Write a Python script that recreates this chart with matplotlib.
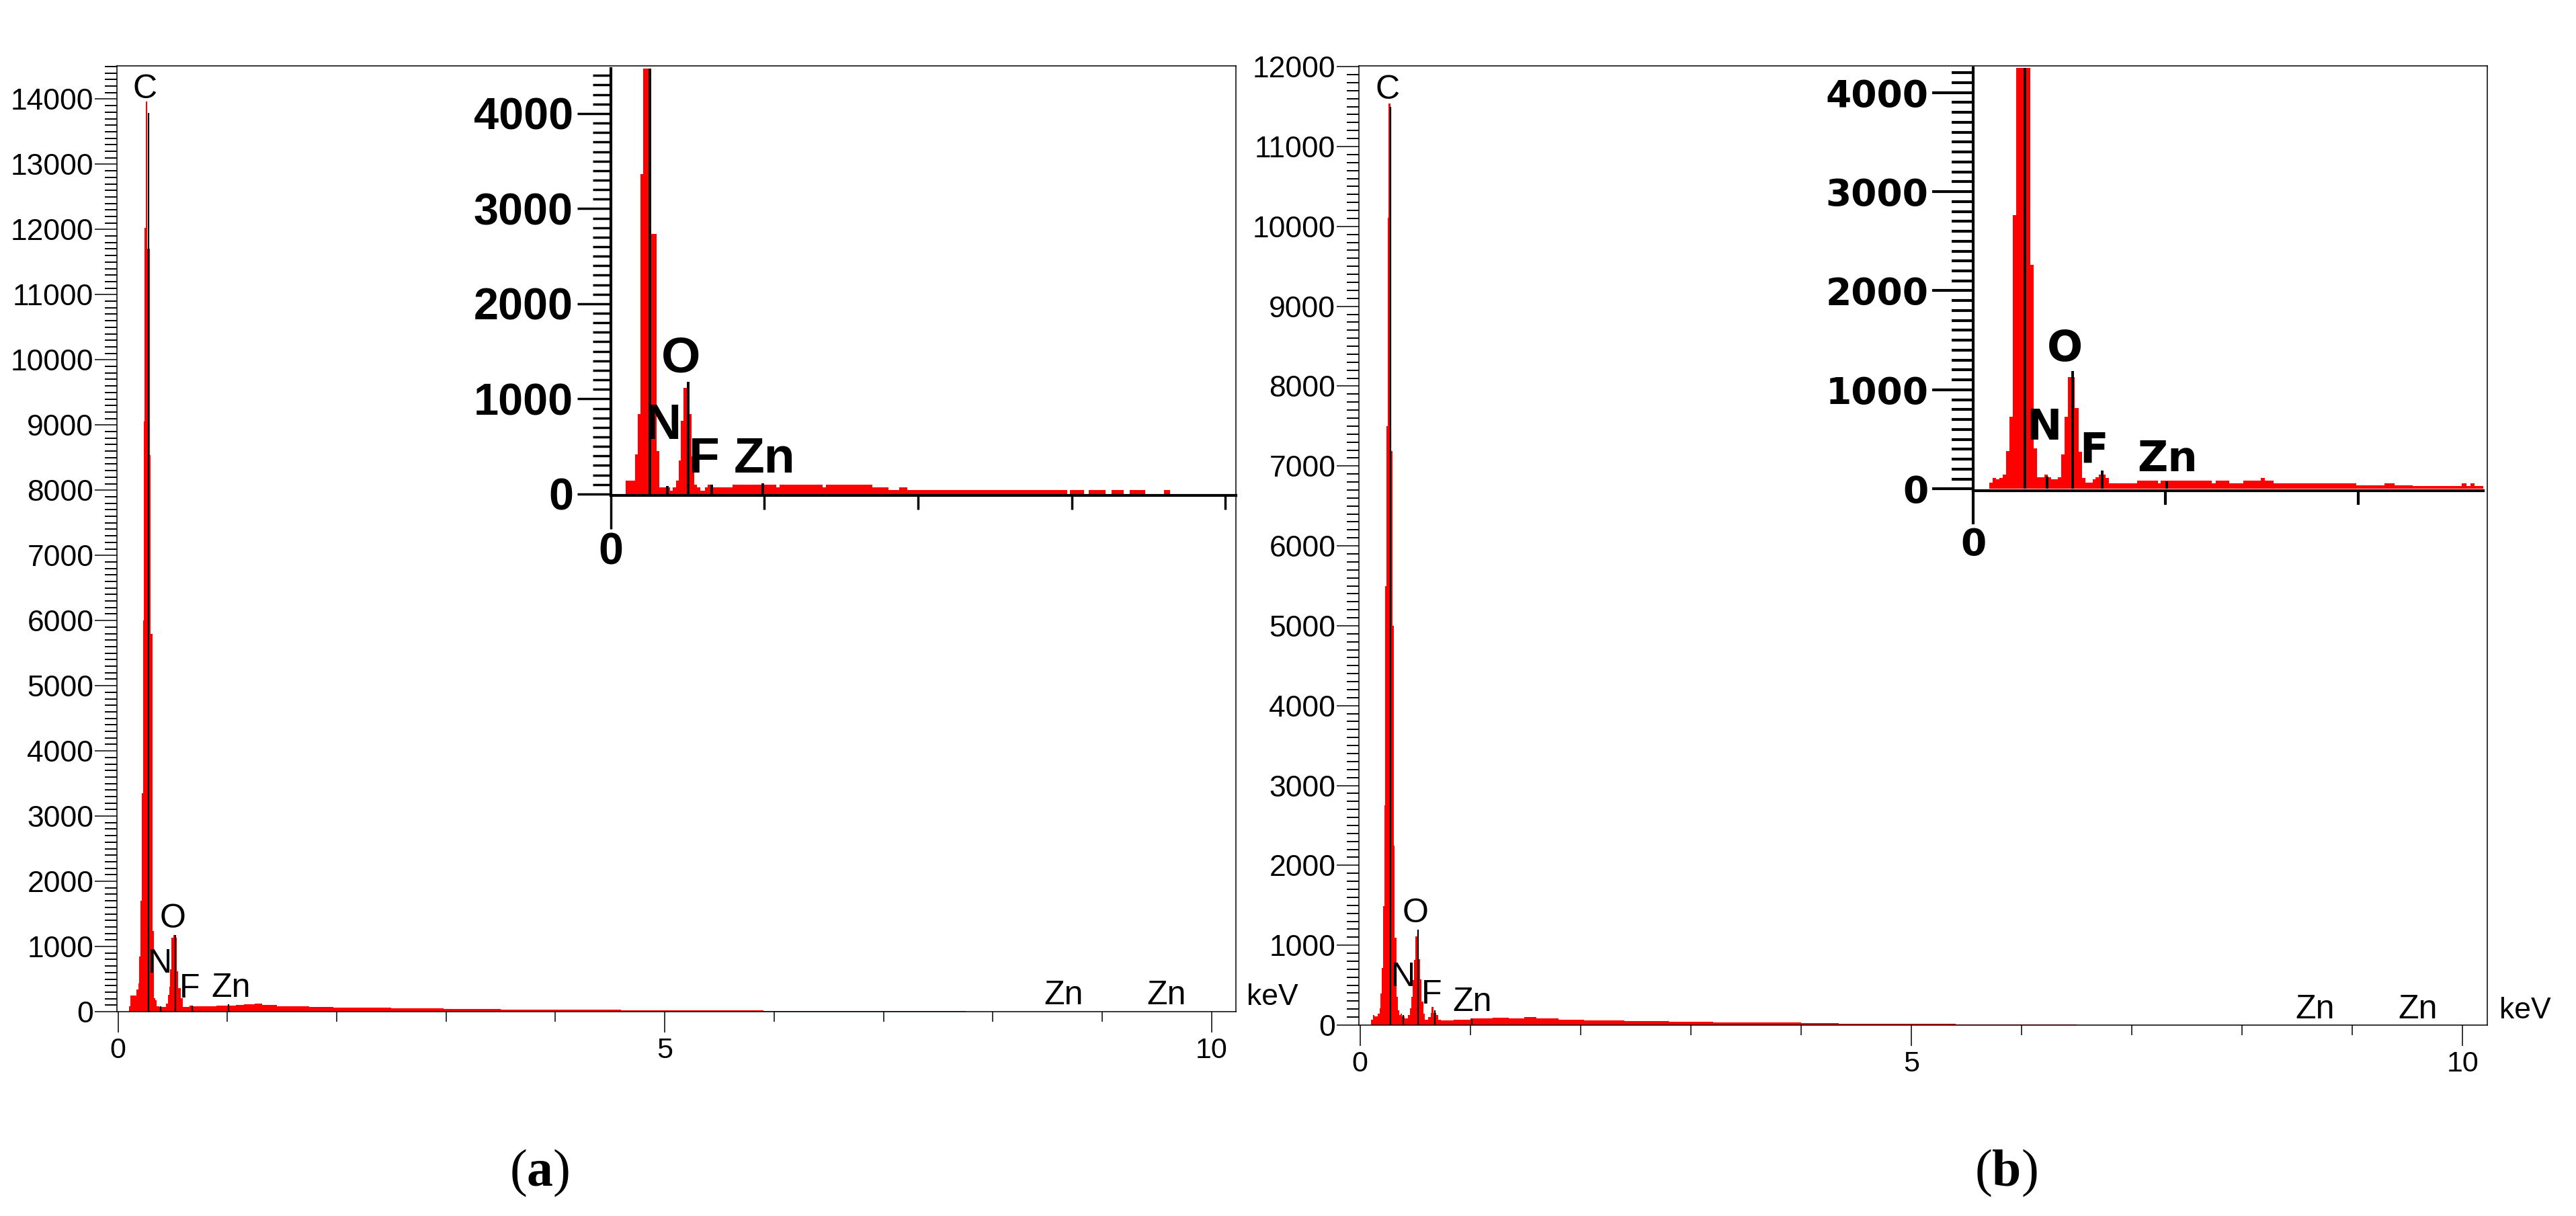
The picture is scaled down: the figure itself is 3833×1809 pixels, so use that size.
import numpy as np
import matplotlib.pyplot as plt
from matplotlib.ticker import MultipleLocator

# Шрифты: узкий Arial-подобный для подписей, засечки для (a)/(b)
NARROW = ['Liberation Sans Narrow', 'Liberation Sans', 'DejaVu Sans']
plt.rcParams['font.family'] = NARROW
plt.rcParams['mathtext.fontset'] = 'custom'
plt.rcParams['mathtext.rm'] = 'Liberation Serif'
plt.rcParams['mathtext.bf'] = 'Liberation Serif:bold'

W, H = 3833, 1809

# Линии элементов, keV
elements = ['C', 'N', 'O', 'F', 'Zn', 'Zn', 'Zn']
line_kev = [0.277, 0.392, 0.525, 0.677, 1.012, 8.630, 9.572]

# ---------- спектр (a): границы каналов (keV) и счёт ----------
edges_a = [0.098, 0.115, 0.170, 0.184, 0.195, 0.205, 0.217, 0.228, 0.235, 0.244,
           0.255, 0.268, 0.289, 0.299, 0.314, 0.330, 0.340, 0.352, 0.375, 0.436,
           0.457, 0.467, 0.477, 0.488, 0.508, 0.525, 0.539, 0.549, 0.574, 0.590,
           0.652, 0.672, 0.713,
           0.80, 0.90, 1.00, 1.08, 1.15, 1.25, 1.32, 1.45, 1.75, 1.97,
           2.50, 2.98, 3.50, 3.99, 4.60, 5.18, 5.90, 6.59, 7.34, 7.75]
counts_a = [86, 245, 344, 437, 849, 1701, 3352, 6000, 9050,
            12020, 13960, 11700, 8540, 5800, 1237, 206, 172, 86, 69,
            120, 258, 378, 653, 1134, 1179, 1134, 619, 361, 206,
            69, 96, 79,
            79, 84, 95, 88, 98, 110, 122, 105, 86, 76,
            62, 52, 38, 32, 27, 23, 19, 15, 11, 8]
line_h_a = [13793, 86, 1179, 96, 110, 0, 0]
label_x_a = [0.243, 0.381, 0.498, 0.655, 1.03, 8.65, 9.59]
label_y_a = [14015, 598, 1289, 217, 227, 113, 113]

# вставка (a), шкала вставки сдвинута примерно на 20 эВ
inset_edges_a = [0.100, 0.160, 0.179, 0.196, 0.214, 0.266, 0.298, 0.316, 0.386, 0.403,
                 0.426, 0.444, 0.458, 0.476, 0.509, 0.527, 0.546, 0.563, 0.582, 0.616,
                 0.633, 0.651, 0.794,
                 1.08, 1.10, 1.38, 1.40, 1.704, 1.807, 1.88, 1.93, 2.973, 2.99,
                 3.08, 3.11, 3.22, 3.26, 3.34, 3.38, 3.48, 3.60, 3.64, 4.07]
inset_counts_a = [140, 419, 839, 3364, 5000, 2733, 455, 71, 38, 71,
                  141, 349, 768, 1119, 839, 396, 101, 71, 38, 71,
                  101, 71,
                  101, 73, 101, 73, 101, 73, 40, 73, 40, 2,
                  40, 2, 40, 2, 40, 2, 40, 2, 40, 2]
inset_shift_a = 0.021
inset_lab_x_a = [0.343, 0.457, 0.608, 1.003]
inset_lab_y_a = [580, 1279, 226, 226]

# ---------- спектр (b) ----------
edges_b = [0.102, 0.118, 0.132, 0.163, 0.177, 0.187, 0.197, 0.208, 0.220, 0.230,
           0.240, 0.250, 0.260, 0.275, 0.283, 0.292, 0.305, 0.315, 0.332, 0.342,
           0.356, 0.366, 0.380, 0.403, 0.437, 0.451, 0.468, 0.478, 0.488, 0.502,
           0.518, 0.533, 0.545, 0.559, 0.573, 0.590, 0.620, 0.640, 0.651, 0.665,
           0.691, 0.712, 0.732,
           0.85, 1.00, 1.20, 1.35, 1.49, 1.60, 1.80, 2.03, 2.40, 2.80,
           3.20, 3.57, 4.00, 4.34, 4.96, 5.40, 5.88, 6.50]
counts_b = [70, 126, 112, 140, 210, 393, 715, 1487, 2750, 5500,
            7497, 10110, 11537, 9690, 7190, 5000, 2245, 1094, 351, 182,
            126, 140, 112, 84, 126, 210, 351, 561, 814, 1108,
            1150, 828, 575, 295, 140, 70, 98, 154, 224, 150,
            126, 70,
            56, 70, 88, 95, 86, 104, 80, 70, 58, 50,
            42, 36, 30, 25, 19, 15, 12, 9]
line_h_b = [11500, 126, 1192, 182, 76, 0, 0]
label_x_b = [0.25, 0.39, 0.50, 0.65, 1.02, 8.66, 9.59]
label_y_b = [11599, 488, 1288, 269, 177, 84, 84]

inset_edges_b = [0.084, 0.101, 0.119, 0.136, 0.154, 0.171, 0.189, 0.206, 0.224, 0.297,
                 0.314, 0.332, 0.369, 0.387, 0.404, 0.439, 0.456, 0.474, 0.491, 0.526,
                 0.547, 0.565, 0.582, 0.620, 0.637, 0.654, 0.687, 0.707,
                 0.851, 0.960, 0.975, 1.241, 1.262, 1.332, 1.405, 1.495, 1.515, 1.562,
                 1.990, 2.137, 2.190, 2.284, 2.538, 2.565, 2.585, 2.605, 2.66]
inset_counts_b = [63, 113, 95, 113, 147, 380, 729, 2761, 5000, 2263,
                  407, 118, 147, 118, 95, 118, 351, 729, 1131, 815,
                  373, 113, 63, 95, 120, 147, 113,
                  59, 86, 59, 86, 59, 86, 59, 86, 113, 86,
                  59, 36, 59, 36, 29, 59, 29, 59, 29]
inset_shift_b = 0.007
inset_lab_x_b = [0.369, 0.475, 0.627, 1.01]
inset_lab_y_b = [498, 1290, 272, 181]

inset_elements = ['N', 'O', 'F', 'Zn']


def px_rect(x0, y0, x1, y1):
    return [x0 / W, 1 - y1 / H, (x1 - x0) / W, (y1 - y0) / H]


# Основной спектр
def main_panel(fig, rect, edges, counts, line_h, lab_x, lab_y, ymax, kev_xy):
    ax = fig.add_axes(rect)
    ax.stairs(counts, edges, fill=True, color='#ff0000', linewidth=0, zorder=1)
    ax.vlines(line_kev, 0, line_h, color='black', linewidth=1.6, zorder=2)
    for el, x, y in zip(elements, lab_x, lab_y):
        ax.text(x, y, el, ha='center', va='baseline', fontsize=36, zorder=3)
    ax.set_xlim(-0.01, 10.223)
    ax.set_ylim(0, ymax)
    ax.xaxis.set_major_locator(MultipleLocator(5))
    ax.xaxis.set_minor_locator(MultipleLocator(1))
    ax.yaxis.set_major_locator(MultipleLocator(1000))
    ax.yaxis.set_minor_locator(MultipleLocator(100))
    ax.tick_params(axis='y', which='major', length=24, width=1.1, pad=1, labelsize=32)
    ax.tick_params(axis='y', which='minor', length=13, width=1.4)
    ax.tick_params(axis='x', which='major', length=22, width=1.1, pad=5, labelsize=31)
    ax.tick_params(axis='x', which='minor', length=11, width=1.1)
    for s in ax.spines.values():
        s.set_linewidth(1.1)
    ax.text(kev_xy[0], kev_xy[1], 'keV', transform=ax.transAxes, fontsize=32,
            ha='left', va='baseline')
    return ax


# Вставка с увеличенным началом спектра
def inset_panel(fig, rect, edges, counts, shift, line_h, lab_x, lab_y, xmax, ymax,
                family, tick_fs, lab_fs, ylen, tw):
    ax = fig.add_axes(rect)
    ax.patch.set_alpha(0)
    ax.stairs(counts, edges, fill=True, color='#ff0000', linewidth=0, zorder=1)
    ax.vlines(np.array(line_kev) - shift, 0, line_h, color='black', linewidth=2.8, zorder=2)
    for el, x, y in zip(inset_elements, lab_x, lab_y):
        ax.text(x, y, el, ha='center', va='baseline', fontsize=lab_fs,
                fontweight='bold', family=family, zorder=3)
    ax.set_xlim(0, xmax)
    ax.set_ylim(-15, ymax)
    ax.spines[['top', 'right']].set_visible(False)
    ax.spines[['left', 'bottom']].set_linewidth(3)
    yt = list(range(0, 4001, 1000))
    ax.set_yticks(yt, labels=[str(v) for v in yt], fontsize=tick_fs,
                  fontweight='bold', family=family)
    ax.set_yticks(np.arange(0, ymax, 100), minor=True)
    ax.set_xticks([0], labels=['0'], fontsize=tick_fs, fontweight='bold', family=family)
    ax.set_xticks(np.arange(1, xmax, 1), minor=True)
    ax.tick_params(axis='y', which='major', length=ylen, width=tw, pad=4)
    ax.tick_params(axis='y', which='minor', length=ylen * 0.53, width=tw)
    ax.tick_params(axis='x', which='major', length=36, width=tw, pad=3)
    ax.tick_params(axis='x', which='minor', length=15, width=tw)
    return ax


if __name__ == '__main__':
    fig = plt.figure(figsize=(W / 100, H / 100), dpi=100)

    main_panel(fig, px_rect(174, 98, 1839, 1505), edges_a, counts_a, line_h_a,
               label_x_a, label_y_a, 14510, (1.0096, 0.0071))
    main_panel(fig, px_rect(2022, 98, 3701, 1525), edges_b, counts_b, line_h_b,
               label_x_b, label_y_b, 12010, (1.0107, 0.0070))

    inset_panel(fig, px_rect(908.5, 102, 1839, 737), inset_edges_a, inset_counts_a,
                inset_shift_a, line_h_a, inset_lab_x_a, inset_lab_y_a, 4.069, 4473,
                NARROW, 48, 54, 36, 2.5)
    inset_panel(fig, px_rect(2936, 101, 3695, 729.5), inset_edges_b, inset_counts_b,
                inset_shift_b, line_h_b, inset_lab_x_b, inset_lab_y_b, 2.651, 4249,
                ['DejaVu Sans'], 39.5, 45, 44, 3.0)

    fig.text(803 / W, 1 - 1764 / H, r'($\mathbf{a}$)', family=['Liberation Serif'],
             fontsize=56, ha='center', va='baseline')
    fig.text(2985 / W, 1 - 1764 / H, r'($\mathbf{b}$)', family=['Liberation Serif'],
             fontsize=56, ha='center', va='baseline')

    fig.savefig('out.png', dpi=100)
